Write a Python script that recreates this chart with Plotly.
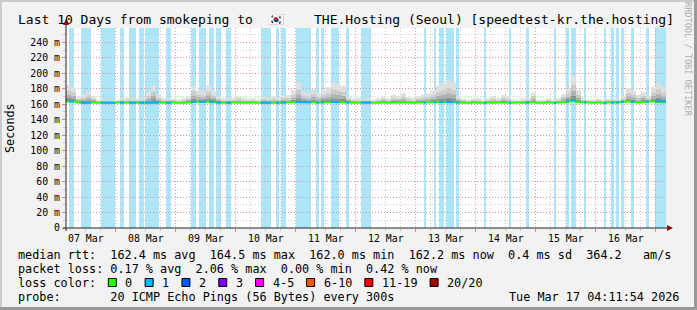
import plotly.graph_objects as go
from datetime import datetime, timedelta

# ---------------- data ----------------
START = datetime(2026, 3, 7, 4, 11, 54)
SPAN_H = 240
BUCKET_H = 2

median_ms = [
    163.6, 163.4, 162.2, 162.0, 162.0, 162.2, 162.0, 162.0, 162.0, 162.0,
    162.2, 162.0, 162.0, 162.2, 162.0, 162.0, 162.4, 162.6, 162.2, 162.0,
    162.0, 162.2, 162.0, 162.0, 162.2, 163.0, 163.2, 163.0, 163.2, 162.6,
    162.2, 162.0, 162.0, 162.2, 162.0, 162.0, 162.0, 162.2, 162.0, 162.0,
    162.2, 162.0, 162.0, 162.2, 162.4, 162.6, 162.8, 162.4, 162.2, 162.4,
    162.2, 162.4, 162.6, 162.8, 162.6, 162.4, 162.2, 162.0, 162.0, 162.2,
    162.0, 162.0, 162.0, 162.2, 162.0, 162.2, 162.2, 162.4, 162.2, 162.0,
    162.2, 162.2, 162.4, 162.6, 162.8, 163.0, 162.8, 162.6, 162.2, 162.0,
    162.0, 162.2, 162.0, 162.0, 162.2, 162.0, 162.2, 162.2, 162.0, 162.0,
    162.2, 162.0, 162.2, 162.4, 162.0, 162.0, 162.2, 162.0, 162.2, 162.6,
    163.4, 164.8, 163.0, 162.4, 162.2, 162.0, 162.2, 162.0, 162.2, 162.2,
    162.4, 163.2, 163.4, 163.0, 162.6, 162.8, 163.4, 163.6, 163.0, 162.6,
]

smoke_max_ms = [
    185, 182, 170, 172, 176, 170, 166, 166, 164, 165,
    166, 168, 169, 166, 167, 168, 175, 184, 172, 168,
    167, 167, 166, 168, 170, 184, 178, 176, 184, 176,
    170, 168, 167, 168, 170, 168, 167, 168, 166, 170,
    168, 170, 168, 171, 172, 178, 188, 176, 174, 180,
    174, 178, 182, 188, 186, 184, 170, 167, 168, 166,
    167, 166, 168, 170, 168, 172, 170, 174, 169, 168,
    170, 172, 174, 178, 184, 186, 191, 188, 170, 167,
    166, 167, 168, 166, 168, 170, 168, 172, 170, 166,
    166, 168, 168, 175, 166, 166, 167, 166, 168, 173,
    180, 196, 178, 168, 166, 166, 167, 166, 167, 168,
    166, 170, 181, 178, 172, 176, 170, 182, 188, 182,
]

# hours after START during which 1 of 20 pings was lost
loss_start_h = [1.2, 6.0, 14.0, 21.6, 25.2, 29.2, 31.6, 40.0, 50.0, 53.2,
                57.2, 60.0, 64.0, 78.0, 84.0, 86.0, 92.0, 100.0, 102.0, 106.0,
                112.0, 118.0, 143.2, 147.2, 149.2, 152.0, 156.0, 167.2, 177.2, 184.0,
                195.2, 200.0, 202.0, 207.2, 215.2, 218.0, 220.0, 222.0, 226.0, 232.0,
                235.6]
loss_end_h = [3.2, 10.0, 19.6, 23.2, 28.0, 31.2, 37.2, 42.0, 52.0, 56.0,
              59.2, 62.0, 66.0, 82.0, 85.2, 88.0, 98.0, 101.2, 103.2, 109.2,
              113.2, 122.0, 144.0, 148.0, 151.2, 155.2, 157.2, 168.0, 178.0, 185.2,
              196.0, 201.2, 204.0, 208.0, 216.0, 219.2, 221.2, 223.2, 227.2, 233.2,
              240.0]

y_tickvals = [0, 20, 40, 60, 80, 100, 120, 140, 160, 180, 200, 220, 240]
y_ticktext = ["0", "20 m", "40 m", "60 m", "80 m", "100 m", "120 m", "140 m",
              "160 m", "180 m", "200 m", "220 m", "240 m"]
day_labels = ["07 Mar", "08 Mar", "09 Mar", "10 Mar", "11 Mar", "12 Mar",
              "13 Mar", "14 Mar", "15 Mar", "16 Mar"]

legend_labels = ["0", "1", "2", "3", "4-5", "6-10", "11-19", "20/20"]
legend_colors = ["#26ff00", "#00b8ff", "#0059ff", "#7e00ff", "#ff00ff",
                 "#ff5500", "#ff0000", "#a10000"]

title_a = "Last 10 Days from smokeping to"
title_flag = "\U0001F1F0\U0001F1F7"
title_b = "THE.Hosting (Seoul) [speedtest-kr.the.hosting]"
line_rtt = "median rtt:  162.4 ms avg  164.5 ms max  162.0 ms min  162.2 ms now  0.4 ms sd  364.2   am/s"
line_loss = "packet loss: 0.17 % avg  2.06 % max  0.00 % min  0.42 % now"
line_probe = "probe:       20 ICMP Echo Pings (56 Bytes) every 300s"
stamp = "Tue Mar 17 04:11:54 2026"

# ---------------- geometry helpers ----------------
W, H = 697, 310
PL, PR, PT, PB = 66, 666, 28, 228
FONT = "DejaVu Sans Mono"
CW = 7.12  # legend char width


def px(x):
    return (x - PL) / (PR - PL)


def py(y):
    return (PB - y) / (PB - PT)


def nb(s):
    return s.replace(" ", "\u00a0")


END = START + timedelta(hours=SPAN_H)
n = len(median_ms)
xs = [START + timedelta(hours=BUCKET_H * i) for i in range(n)] + [END]
med = median_ms + [median_ms[-1]]
mx = smoke_max_ms + [smoke_max_ms[-1]]

fig = go.Figure()
fig.add_trace(go.Scatter(x=xs, y=med, mode="lines", line=dict(width=0, shape="hv"),
                         hoverinfo="skip", showlegend=False))
fracs = [0.08, 0.2, 0.4, 0.65, 1.0]
greys = ["#686868", "#8e8e8e", "#b0b0b0", "#cbcbcb", "#dfdfdf"]
for f, c in zip(fracs, greys):
    fig.add_trace(go.Scatter(x=xs, y=[m + f * (h - m) for m, h in zip(med, mx)],
                             mode="lines", line=dict(width=0, shape="hv"),
                             fill="tonexty", fillcolor=c, hoverinfo="skip",
                             showlegend=False))

fig.add_trace(go.Scatter(x=xs, y=med, mode="lines",
                         line=dict(color="#26ff00", width=2, shape="hv"),
                         hoverinfo="skip", showlegend=False))
bx, by = [], []
for s, e in zip(loss_start_h, loss_end_h):
    v = median_ms[min(int(s // BUCKET_H), n - 1)]
    bx += [START + timedelta(hours=s), START + timedelta(hours=e), None]
    by += [v, v, None]
fig.add_trace(go.Scatter(x=bx, y=by, mode="lines",
                         line=dict(color="#0aa8f5", width=2, shape="hv"),
                         hoverinfo="skip", showlegend=False, connectgaps=False))

shapes = []
for s, e in zip(loss_start_h, loss_end_h):
    shapes.append(dict(type="rect", xref="x", yref="y domain",
                       x0=START + timedelta(hours=s), x1=START + timedelta(hours=e),
                       y0=0, y1=1, fillcolor="#ade5f9", line=dict(width=0),
                       layer="below"))

# frame
shapes += [
    dict(type="line", xref="paper", yref="paper", x0=px(0), x1=px(W), y0=py(1), y1=py(1),
         line=dict(color="#cbcbcb", width=2)),
    dict(type="line", xref="paper", yref="paper", x0=px(1), x1=px(1), y0=py(0), y1=py(H),
         line=dict(color="#cbcbcb", width=2)),
    dict(type="line", xref="paper", yref="paper", x0=px(0), x1=px(W), y0=py(H - 1.5), y1=py(H - 1.5),
         line=dict(color="#999999", width=3)),
    dict(type="line", xref="paper", yref="paper", x0=px(W - 1.5), x1=px(W - 1.5), y0=py(0), y1=py(H),
         line=dict(color="#999999", width=3)),
]
# axes with arrows
shapes += [
    dict(type="line", xref="paper", yref="paper", x0=px(PL), x1=px(PL), y0=py(PB + 3), y1=py(24),
         line=dict(color="#222222", width=1)),
    dict(type="line", xref="paper", yref="paper", x0=px(PL - 3), x1=px(669), y0=py(PB), y1=py(PB),
         line=dict(color="#222222", width=1)),
    dict(type="path", xref="paper", yref="paper",
         path=f"M {px(PL-3)} {py(25)} L {px(PL+3)} {py(25)} L {px(PL)} {py(19)} Z",
         fillcolor="#8b1010", line=dict(width=0)),
    dict(type="path", xref="paper", yref="paper",
         path=f"M {px(667)} {py(PB-3)} L {px(667)} {py(PB+3)} L {px(673)} {py(PB)} Z",
         fillcolor="#8b1010", line=dict(width=0)),
]

annotations = []
fsz = 11.8
annotations.append(dict(text=nb(title_a), x=px(16), y=py(19), xref="paper", yref="paper",
                        xanchor="left", yanchor="middle", showarrow=False,
                        font=dict(family=FONT, size=13, color="#000")))
annotations.append(dict(text=title_flag, x=px(266), y=py(19), xref="paper", yref="paper",
                        xanchor="left", yanchor="middle", showarrow=False,
                        font=dict(family=FONT, size=13, color="#000")))
annotations.append(dict(text=nb(title_b), x=px(311.5), y=py(19), xref="paper", yref="paper",
                        xanchor="left", yanchor="middle", showarrow=False,
                        font=dict(family=FONT, size=13, color="#000")))
annotations.append(dict(text="Seconds", x=px(10), y=py(128), xref="paper", yref="paper",
                        textangle=-90, showarrow=False, xanchor="center", yanchor="middle",
                        font=dict(family=FONT, size=fsz, color="#000")))
annotations.append(dict(text=nb("RRDTOOL / TOBI OETIKER"), x=px(688), y=py(59), xref="paper",
                        yref="paper", textangle=90, showarrow=False, xanchor="center",
                        yanchor="middle", font=dict(family=FONT, size=8.6, color="#b0b0b0")))
for i, lab in enumerate(day_labels):
    noon = datetime(START.year, START.month, START.day, 12) + timedelta(days=i)
    annotations.append(dict(text=nb(lab), x=noon, y=py(238), xref="x", yref="paper",
                            showarrow=False, xanchor="center", yanchor="middle",
                            font=dict(family=FONT, size=9.9, color="#000")))
for txt, yy in [(line_rtt, 255), (line_loss, 268.5), ("loss color:", 282.5), (line_probe, 296.5)]:
    annotations.append(dict(text=nb(txt), x=px(16), y=py(yy), xref="paper", yref="paper",
                            showarrow=False, xanchor="left", yanchor="middle",
                            font=dict(family=FONT, size=fsz, color="#000")))
annotations.append(dict(text=nb(stamp), x=px(681), y=py(296.5), xref="paper", yref="paper",
                        showarrow=False, xanchor="right", yanchor="middle",
                        font=dict(family=FONT, size=fsz, color="#000")))
bxp = 108.3
for lab, col in zip(legend_labels, legend_colors):
    shapes.append(dict(type="rect", xref="paper", yref="paper", x0=px(bxp), x1=px(bxp + 8),
                       y0=py(278.5), y1=py(286.5), fillcolor=col,
                       line=dict(color="#000", width=1)))
    lx = bxp + 15
    annotations.append(dict(text=nb(lab), x=px(lx), y=py(282.5), xref="paper", yref="paper",
                            showarrow=False, xanchor="left", yanchor="middle",
                            font=dict(family=FONT, size=fsz, color="#000")))
    bxp = lx + len(lab) * CW + 14.7

midnight = datetime(START.year, START.month, START.day) + timedelta(days=1)
fig.update_layout(
    width=W, height=H,
    margin=dict(l=PL, r=W - PR, t=PT, b=H - PB, pad=0),
    paper_bgcolor="#f2f2f2", plot_bgcolor="#ffffff",
    font=dict(family=FONT, size=fsz, color="#000"),
    shapes=shapes, annotations=annotations, showlegend=False,
    xaxis=dict(type="date", range=[START, END], showgrid=True,
               gridcolor="rgba(235,120,120,0.7)", griddash="1px,2px", gridwidth=1,
               tick0=midnight, dtick=86400000, showticklabels=False,
               ticks="outside", ticklen=3, tickcolor="rgba(235,120,120,0.9)",
               minor=dict(dtick=6 * 3600000, tick0=midnight, showgrid=True,
                          gridcolor="#cccccc", griddash="1px,2px", ticks="outside",
                          ticklen=2, tickcolor="#c6c6c6"),
               zeroline=False, showline=False, automargin=False, fixedrange=True),
    yaxis=dict(range=[0, 258.5], tickvals=y_tickvals, ticktext=[nb(t) for t in y_ticktext],
               showgrid=True, gridcolor="rgba(235,120,120,0.7)", griddash="1px,2px",
               ticks="outside", ticklen=3, tickcolor="rgba(235,120,120,0.9)",
               tickfont=dict(family=FONT, size=9.9, color="#000"),
               minor=dict(dtick=10, showgrid=True, gridcolor="#cccccc",
                          griddash="1px,2px", ticks="outside", ticklen=2,
                          tickcolor="#c6c6c6"),
               zeroline=False, showline=False, automargin=False, fixedrange=True),
)

fig.write_html("out.html")
